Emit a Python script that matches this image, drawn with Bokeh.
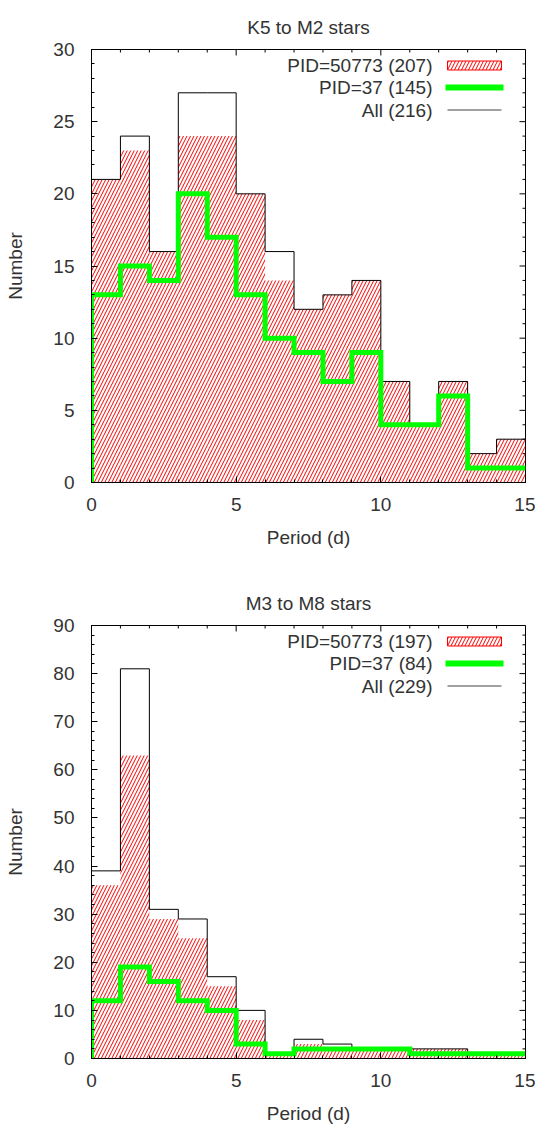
import numpy as np
from bokeh.plotting import figure
from bokeh.layouts import column
from bokeh.models import FixedTicker, Range1d, Label, BoxAnnotation
from bokeh.embed import file_html
from bokeh.resources import INLINE

# ---- data ----
edges = list(range(0, 16))  # period bin edges (d)

k5m2_title = "K5 to M2 stars"
k5m2_all = [21, 24, 16, 27, 27, 20, 16, 12, 13, 14, 7, 4, 7, 2, 3]
k5m2_pid50773 = [21, 23, 16, 24, 24, 20, 14, 12, 13, 14, 7, 4, 7, 2, 3]
k5m2_pid37 = [13, 15, 14, 20, 17, 13, 10, 9, 7, 9, 4, 4, 6, 1, 1]
k5m2_labels = ["PID=50773 (207)", "PID=37 (145)", "All (216)"]

m3m8_title = "M3 to M8 stars"
m3m8_all = [39, 81, 31, 29, 17, 10, 1, 4, 3, 2, 2, 2, 2, 1, 1]
m3m8_pid50773 = [36, 63, 29, 25, 15, 8, 1, 3, 2, 2, 2, 2, 2, 1, 1]
m3m8_pid37 = [12, 19, 16, 12, 10, 3, 1, 2, 2, 2, 2, 1, 1, 1, 1]
m3m8_labels = ["PID=50773 (197)", "PID=37 (84)", "All (229)"]

x_label = "Period (d)"
y_label = "Number"
x_major = [0, 5, 10, 15]
x_minor = list(range(0, 16))

FONT = "Liberation Sans"
FS = "19px"
TXT = "#333333"
RED = "#ff0000"
GREEN = "#00ff00"

FW, FH = 434, 433
MAJ, MIN = 6, 3
HATCH = 7


def steps(vals):
    xs, ys = [edges[0]], [0]
    for i, v in enumerate(vals):
        xs += [edges[i], edges[i + 1]]
        ys += [v, v]
    return xs, ys


def style_axis(ax, ticker):
    ax.ticker = ticker
    ax.major_tick_in = MAJ
    ax.major_tick_out = 0
    ax.minor_tick_in = MIN
    ax.minor_tick_out = 0
    ax.axis_line_color = "black"
    ax.major_tick_line_color = "black"
    ax.minor_tick_line_color = "black"
    ax.major_label_text_font = FONT
    ax.major_label_text_font_size = FS
    ax.major_label_text_color = TXT
    ax.axis_label_text_font = FONT
    ax.axis_label_text_font_size = FS
    ax.axis_label_text_color = TXT
    ax.axis_label_text_font_style = "normal"


def make(title, all_, p50773, p37, labels, ymax, ymajor, bottom_border):
    p = figure(frame_width=FW, frame_height=FH, output_backend="svg",
               toolbar_location=None, x_range=Range1d(0, 15), y_range=Range1d(0, ymax),
               min_border_left=91, min_border_right=10, min_border_top=49,
               min_border_bottom=bottom_border,
               background_fill_color="white", border_fill_color="white")
    p.title.text = title
    p.title.align = "center"
    p.title.vertical_align = "top"
    p.title.text_font = FONT
    p.title.text_font_size = FS
    p.title.text_font_style = "normal"
    p.title.text_color = TXT
    p.title.standoff = 20
    p.xgrid.visible = False
    p.ygrid.visible = False
    p.outline_line_color = "black"
    p.outline_line_alpha = 1

    y_major = list(range(0, ymax + 1, ymajor))
    y_minor = [float(v) for v in np.arange(0, ymax + 0.01, ymajor / 5)]
    xt = FixedTicker(ticks=x_major, minor_ticks=x_minor)
    yt = FixedTicker(ticks=y_major, minor_ticks=y_minor)
    style_axis(p.xaxis[0], xt)
    style_axis(p.yaxis[0], yt)
    p.xaxis[0].axis_label = x_label
    p.yaxis[0].axis_label = y_label
    p.xaxis[0].major_label_standoff = 15
    p.xaxis[0].axis_label_standoff = 13
    p.yaxis[0].major_label_standoff = 17
    p.yaxis[0].axis_label_standoff = 24

    ux = 15.0 / FW
    uy = ymax / FH

    # mirrored inward ticks on top and right frame edges
    tx = [t for t in x_minor]
    tlen = [(MAJ if t in x_major else MIN) * uy for t in tx]
    p.segment(x0=tx, y0=[ymax] * len(tx), x1=tx, y1=[ymax - l for l in tlen],
              line_color="black", line_width=1)
    ty = y_minor
    tlen = [(MAJ if t in y_major else MIN) * ux for t in ty]
    p.segment(x0=[15] * len(ty), y0=ty, x1=[15 - l for l in tlen], y1=ty,
              line_color="black", line_width=1)

    # hatched histogram
    p.quad(left=edges[:-1], right=edges[1:], bottom=0, top=p50773,
           fill_color=None, line_color=None,
           hatch_pattern="/", hatch_color=RED, hatch_scale=HATCH, hatch_weight=1)
    xs, ys = steps(all_)
    p.line(xs, ys, line_color="black", line_width=1)
    xs, ys = steps(p37)
    p.line(xs, ys, line_color=GREEN, line_width=5, line_join="miter")

    # legend (label left, sample right) placed by pixel offsets from frame top-right
    def X(px_from_right):
        return 15 - px_from_right * ux

    def Y(px_from_top):
        return ymax - px_from_top * uy

    rows = [16, 38, 60.5]
    for lab, r in zip(labels, rows):
        p.add_layout(Label(x=X(93), y=Y(r), text=lab, text_align="right",
                           text_baseline="middle", text_font=FONT,
                           text_font_size=FS, text_color=TXT))
    p.add_layout(BoxAnnotation(left=X(78), right=X(24), top=Y(rows[0] - 4.5),
                               bottom=Y(rows[0] + 4.5), fill_color=None,
                               fill_alpha=0, line_color=RED, line_width=1,
                               line_alpha=1, hatch_pattern="/", hatch_color=RED,
                               hatch_scale=HATCH, hatch_weight=1, hatch_alpha=1))
    p.add_layout(BoxAnnotation(left=X(80), right=X(22), top=Y(rows[1] - 3),
                               bottom=Y(rows[1] + 3), fill_color=GREEN,
                               fill_alpha=1, line_color=None))
    p.add_layout(BoxAnnotation(left=X(78), right=X(24), top=Y(rows[2] - 0.5),
                               bottom=Y(rows[2] + 0.5), fill_color="#444444",
                               fill_alpha=1, line_color=None))
    return p


p1 = make(k5m2_title, k5m2_all, k5m2_pid50773, k5m2_pid37, k5m2_labels, 30, 5, 94)
p2 = make(m3m8_title, m3m8_all, m3m8_pid50773, m3m8_pid37, m3m8_labels, 90, 10, 66)

layout = column(p1, p2, spacing=0)
open("out.html", "w").write(file_html(layout, INLINE))
